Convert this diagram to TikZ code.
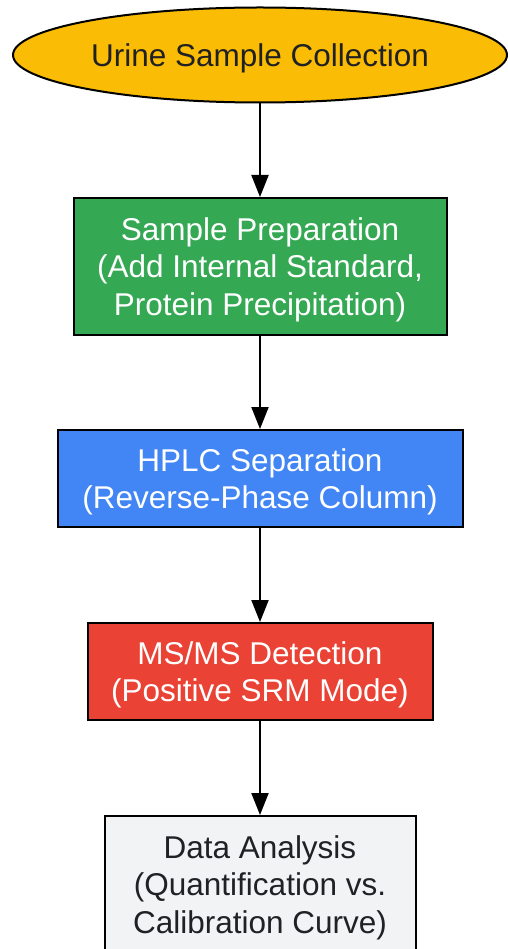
\documentclass[tikz,border=0pt]{standalone}
\usepackage{fontspec}
\setmainfont{Liberation Sans}
\usepackage{tikz}
\usetikzlibrary{shapes.geometric,arrows.meta}

\definecolor{ink}{HTML}{202124}
\definecolor{sun}{HTML}{FBBC05}
\definecolor{leaf}{HTML}{34A853}
\definecolor{sky}{HTML}{4285F4}
\definecolor{brick}{HTML}{EA4335}
\definecolor{mist}{HTML}{F1F3F4}

\begin{document}
\begin{tikzpicture}[x=1pt, y=1pt,
	every node/.style={font=\fontsize{31.5}{37.5}\selectfont, align=center, 
		inner sep=0pt, text depth=0pt},
	stage/.style={draw=black, line width=2pt, rectangle},
	flow/.style={-{Triangle[length=22pt,width=17pt]}, line width=2pt}]
	\useasboundingbox (0,0) rectangle (507,-949);
	\node [ellipse, draw=black, line width=2pt, fill=sun, text=ink,
		minimum width=494pt, minimum height=95pt] (1) at (260,-55) 
		{Urine Sample Collection};
	\node [stage, fill=leaf, text=white, 
		minimum width=373pt, minimum height=137pt] (2) at (260,-266.5) 
		{Sample Preparation\\(Add Internal Standard,\\Protein Precipitation)};
	\node [stage, fill=sky, text=white, 
		minimum width=405pt, minimum height=97pt] (3) at (260,-478.5) 
		{HPLC Separation\\(Reverse-Phase Column)};
	\node [stage, fill=brick, text=white, 
		minimum width=345pt, minimum height=97pt] (4) at (260,-671.5) 
		{MS/MS Detection\\(Positive SRM Mode)};
	\node [stage, fill=mist, text=ink, 
		minimum width=311pt, minimum height=137pt] (5) at (260,-884.5) 
		{Data Analysis\\(Quantification vs.\\Calibration Curve)};
	\draw [flow] (1) to (2);
	\draw [flow] (2) to (3);
	\draw [flow] (3) to (4);
	\draw [flow] (4) to (5);
\end{tikzpicture}
\end{document}
